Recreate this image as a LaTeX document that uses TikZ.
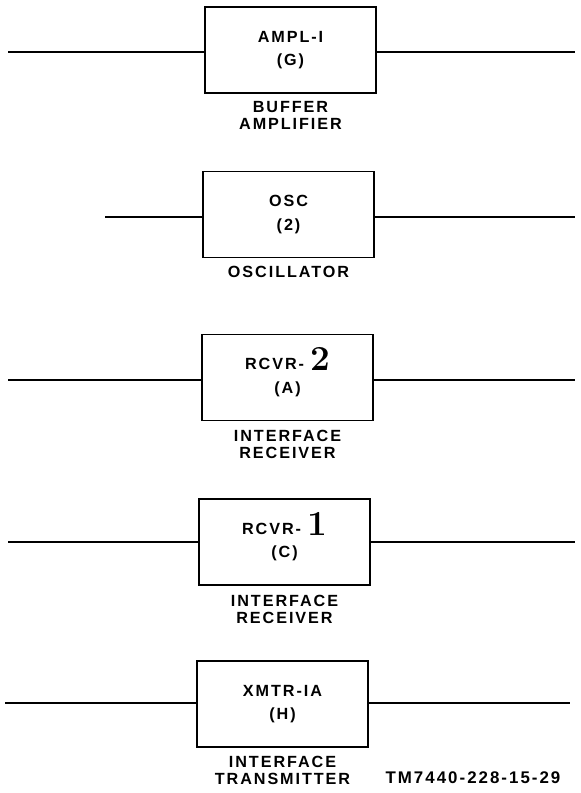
\documentclass[tikz,border=0pt]{standalone}
\usepackage{fontspec}
\newfontfamily\lblfont[LetterSpace=12]{Liberation Sans}
\usetikzlibrary{positioning}

\tikzset{
  blk/.style={draw, line width=1.1pt, minimum width=4.275cm, minimum height=2.15cm,
    align=center, font=\lblfont\bfseries\fontsize{11.5}{16.5}\selectfont, inner sep=0pt},
  lbl/.style={align=center, font=\lblfont\bfseries\fontsize{11.5}{12}\selectfont, inner sep=0pt},
  wire/.style={line width=1.1pt}
}
\newcommand{\unitnum}[1]{\hspace{1.5mm}\smash{\raisebox{-0.1ex}{\fontsize{25}{25}\selectfont\bfseries\rmfamily #1}}}

\begin{document}
\begin{tikzpicture}[x=0.025cm,y=-0.025cm]
    \useasboundingbox (0,0) rectangle (580,793);

    \node[blk] (ampl) at (290.5,50) {AMPL-I\\(G)};
    \node[lbl, below=1.8mm of ampl] (ampllbl) {BUFFER\\AMPLIFIER};
    \coordinate (ampl in) at (8,52);
    \coordinate (ampl out) at (575,52);
    \draw[wire] (ampl in) -- (ampl.west |- ampl in);
    \draw[wire] (ampl.east |- ampl out) -- (ampl out);

    \node[blk] (osc) at (288.5,214.5) {OSC\\(2)};
    \node[lbl, below=2mm of osc] (osclbl) {OSCILLATOR};
    \coordinate (osc in) at (105,217);
    \coordinate (osc out) at (575,217);
    \draw[wire] (osc in) -- (osc.west |- osc in);
    \draw[wire] (osc.east |- osc out) -- (osc out);

    \node[blk] (rcvra) at (287.5,377.5) {RCVR-\unitnum{2}\\(A)};
    \node[lbl, below=2.2mm of rcvra] (rcvralbl) {INTERFACE\\RECEIVER};
    \coordinate (rcvra in) at (8,380);
    \coordinate (rcvra out) at (575,380);
    \draw[wire] (rcvra in) -- (rcvra.west |- rcvra in);
    \draw[wire] (rcvra.east |- rcvra out) -- (rcvra out);

    \node[blk] (rcvrc) at (284.5,542) {RCVR-\unitnum{1}\\(C)};
    \node[lbl, below=2.2mm of rcvrc] (rcvrclbl) {INTERFACE\\RECEIVER};
    \coordinate (rcvrc in) at (8,542);
    \coordinate (rcvrc out) at (575,542);
    \draw[wire] (rcvrc in) -- (rcvrc.west |- rcvrc in);
    \draw[wire] (rcvrc.east |- rcvrc out) -- (rcvrc out);

    \node[blk] (xmtr) at (282.5,704) {XMTR-IA\\(H)};
    \node[lbl, below=2mm of xmtr] (xmtrlbl) {INTERFACE\\TRANSMITTER};
    \coordinate (xmtr in) at (5,703);
    \coordinate (xmtr out) at (570,703);
    \draw[wire] (xmtr in) -- (xmtr.west |- xmtr in);
    \draw[wire] (xmtr.east |- xmtr out) -- (xmtr out);

    \node[lbl, anchor=base, font=\lblfont\bfseries\fontsize{12}{12}\selectfont] (fig) at (473,783) {TM7440-228-15-29};
\end{tikzpicture}
\end{document}
